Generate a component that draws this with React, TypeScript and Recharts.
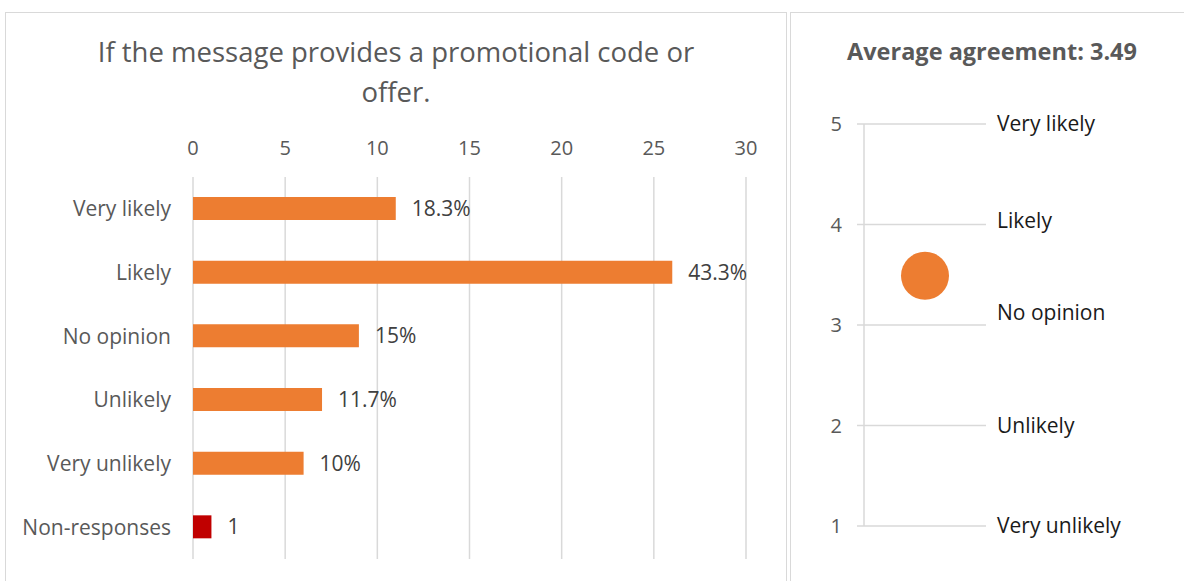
import { BarChart, Bar, XAxis, YAxis, CartesianGrid, Cell, LabelList, ScatterChart, Scatter } from "recharts";

const categories = ["Very likely", "Likely", "No opinion", "Unlikely", "Very unlikely", "Non-responses"];
const counts = [11, 26, 9, 7, 6, 1];
const valueLabels = ["18.3%", "43.3%", "15%", "11.7%", "10%", "1"];
const countTicks = [0, 5, 10, 15, 20, 25, 30];

const scaleTicks = [1, 2, 3, 4, 5];
const scaleLabels = ["Very unlikely", "Unlikely", "No opinion", "Likely", "Very likely"];
const averageAgreement = 3.49;

const FONT = "'Open Sans', 'Noto Sans', sans-serif";
const ORANGE = "#ED7D31";
const DARK_RED = "#C00000";
const GRID = "#D9D9D9";
const TEXT = "#595959";

// the Excel labels for 4 and 3 sit a bit above their gridlines
const labelNudge: Record<number, number> = { 4: -4, 3: -12 };

const barData = categories.map((name, i) => ({ name, count: counts[i], label: valueLabels[i] }));
const avgData = [{ x: 1, y: averageAgreement }];

const ScaleLabel = (props: any) => {
  const { x, y, payload } = props;
  const v = payload.value as number;
  return (
    <text x={x + 9} y={y + (labelNudge[v] || 0)} dy="0.355em" textAnchor="start" fill="#1a1a1a" fontSize={21} fontFamily={FONT}>
      {scaleLabels[v - 1]}
    </text>
  );
};

const App = () => {
  return (
    <div style={{ position: "fixed", left: 0, top: 0, width: 1184, height: 581, background: "#fff", overflow: "hidden", fontFamily: FONT }}>
      {/* panel frames */}
      <div style={{ position: "absolute", left: 5, top: 12, width: 780, height: 620, border: `1px solid ${GRID}` }} />
      <div style={{ position: "absolute", left: 790, top: 12, width: 500, height: 620, border: `1px solid ${GRID}` }} />

      <div style={{ position: "absolute", left: 5, top: 32, width: 782, textAlign: "center", fontSize: 27.5, lineHeight: "40px", color: TEXT }}>
        If the message provides a promotional code or
        <br />
        offer.
      </div>

      <div style={{ position: "absolute", left: 0, top: 0 }}>
        <BarChart
          width={790}
          height={581}
          data={barData}
          layout="vertical"
          margin={{ top: 147, right: 44, bottom: 22, left: 0 }}
          barSize={23}
        >
          <CartesianGrid horizontal={false} stroke={GRID} strokeWidth={1.5} />
          <XAxis
            type="number"
            orientation="top"
            domain={[0, 30]}
            ticks={countTicks}
            height={30}
            axisLine={false}
            tickLine={false}
            tickSize={0}
            tickMargin={22}
            tick={{ fill: TEXT, fontSize: 20, fontFamily: FONT }}
          />
          <YAxis
            type="category"
            dataKey="name"
            width={193}
            axisLine={false}
            tickLine={false}
            tickSize={0}
            tickMargin={22}
            tick={{ fill: TEXT, fontSize: 21, fontFamily: FONT }}
          />
          <Bar dataKey="count" isAnimationActive={false}>
            {barData.map((d, i) => (
              <Cell key={`c-${i}`} fill={d.name === "Non-responses" ? DARK_RED : ORANGE} />
            ))}
            <LabelList dataKey="label" position="right" offset={16} fill="#404040" fontSize={21} fontFamily={FONT} />
          </Bar>
        </BarChart>
      </div>

      <div style={{ position: "absolute", left: 791, top: 35, width: 402, textAlign: "center", fontSize: 23.5, fontWeight: 700, color: TEXT }}>
        Average agreement: 3.49
      </div>

      <div style={{ position: "absolute", left: 791, top: 0 }}>
        <ScatterChart width={393} height={581} margin={{ top: 124, right: 0, bottom: 55, left: 0 }}>
          <CartesianGrid yAxisId="left" vertical={false} stroke={GRID} strokeWidth={1.5} />
          <XAxis type="number" dataKey="x" domain={[0, 2]} hide />
          <YAxis
            yAxisId="left"
            type="number"
            dataKey="y"
            domain={[1, 5]}
            ticks={scaleTicks}
            width={73}
            axisLine={{ stroke: GRID, strokeWidth: 1.5 }}
            tickLine={{ stroke: GRID, strokeWidth: 1.5 }}
            tickSize={7}
            tickMargin={15}
            tick={{ fill: TEXT, fontSize: 20, fontFamily: FONT }}
          />
          <YAxis
            yAxisId="right"
            orientation="right"
            type="number"
            dataKey="y"
            domain={[1, 5]}
            ticks={scaleTicks}
            width={198}
            axisLine={false}
            tickLine={false}
            tickSize={0}
            tick={<ScaleLabel />}
          />
          <Scatter
            yAxisId="right"
            data={avgData}
            isAnimationActive={false}
            shape={() => <g />}
          />
          <Scatter
            yAxisId="left"
            data={avgData}
            fill={ORANGE}
            isAnimationActive={false}
            shape={(p: any) => <circle cx={p.cx} cy={p.cy} r={24} fill={ORANGE} />}
          />
        </ScatterChart>
      </div>
    </div>
  );
};

export default App;
